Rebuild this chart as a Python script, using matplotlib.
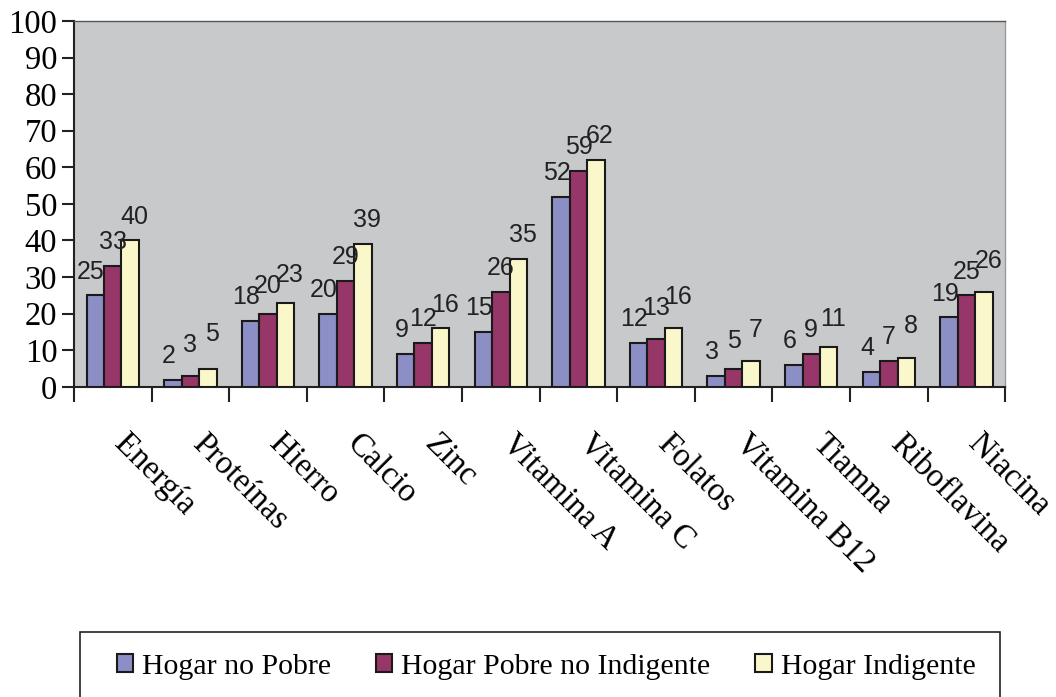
import numpy as np
import matplotlib.pyplot as plt
from matplotlib.patches import Rectangle
from matplotlib.transforms import ScaledTranslation

# --- data ---
categories = ['Energía', 'Proteínas', 'Hierro', 'Calcio', 'Zinc', 'Vitamina A',
              'Vitamina C', 'Folatos', 'Vitamina B12', 'Tiamna', 'Riboflavina', 'Niacina']
no_pobre = [25, 2, 18, 20, 9, 15, 52, 12, 3, 6, 4, 19]
pobre_no_indigente = [33, 3, 20, 29, 12, 26, 59, 13, 5, 9, 7, 25]
indigente = [40, 5, 23, 39, 16, 35, 62, 16, 7, 11, 8, 26]
series_names = ['Hogar no Pobre', 'Hogar Pobre no Indigente', 'Hogar Indigente']
y_ticks = [0, 10, 20, 30, 40, 50, 60, 70, 80, 90, 100]

colors = ['#8C8FC6', '#973668', '#FAF8CA']
serif = 'Liberation Serif'
sans = 'Liberation Sans'

fig = plt.figure(figsize=(10.56, 6.97), dpi=100)
ax = fig.add_axes([0.070, 0.445, 0.882, 0.525])
ax.set_facecolor('#C8C9CB')

x = np.arange(len(categories))
w = 0.225
all_vals = [no_pobre, pobre_no_indigente, indigente]
handles = []
for i, (vals, name) in enumerate(zip(all_vals, series_names)):
    bars = ax.bar(x + (i - 1) * w, vals, width=w, color=colors[i],
                  edgecolor='#1a1a1a', linewidth=1.5, label=name, zorder=3)
    handles.append(bars)

# value labels, nudged up a little when they would sit on the previous one
lift = 6.5      # label centre above bar top, in data units
min_sep = 3.0
for j in range(len(categories)):
    prev = None
    for i in range(3):
        v = all_vals[i][j]
        yl = v + lift
        if prev is not None and yl - prev < min_sep:
            yl = prev + min_sep
        prev = yl
        ax.annotate(str(v), (x[j] + (i - 1) * w, yl), xytext=((i - 1) * 3, 0),
                    textcoords='offset points', ha='center', va='center',
                    fontsize=18, family=sans, color='#222222', zorder=4)

ax.set_xlim(-0.5, len(categories) - 0.5)
ax.set_ylim(0, 100)
ax.set_yticks(y_ticks)
ax.set_yticklabels([str(t) for t in y_ticks], family=serif, fontsize=23.5)
ax.tick_params(axis='y', direction='out', length=9, width=1.5, pad=3, color='#222222')

# category labels at centers, ticks at boundaries
ax.set_xticks(x)
ax.set_xticklabels(categories, rotation=-45, ha='left', va='top',
                   rotation_mode='anchor', family=serif, fontsize=23.5)
ax.tick_params(axis='x', which='major', length=0, pad=30)
shift = ScaledTranslation(0.17, 0, fig.dpi_scale_trans)
for lbl in ax.get_xticklabels():
    lbl.set_transform(lbl.get_transform() + shift)
ax.set_xticks(np.arange(len(categories) + 1) - 0.5, minor=True)
ax.tick_params(axis='x', which='minor', direction='out', length=11, width=1.5, color='#222222')

for s in ['left', 'bottom']:
    ax.spines[s].set_linewidth(1.5)
    ax.spines[s].set_color('#222222')
ax.spines['top'].set_linewidth(1.0)
ax.spines['top'].set_color('#555555')
ax.spines['right'].set_linewidth(1.0)
ax.spines['right'].set_color('#9a9a9a')

# legend box (runs off the bottom edge)
fig.patches.append(Rectangle((80 / 1056, -0.1), 920 / 1056, 0.1 + (1 - 632 / 697),
                             transform=fig.transFigure, facecolor='white',
                             edgecolor='#222222', linewidth=1.2))
leg = fig.legend(handles=handles, labels=series_names, loc='center',
                 bbox_to_anchor=(546 / 1056, 1 - 667 / 697), ncol=3, frameon=False,
                 prop={'family': serif, 'size': 21.5}, handlelength=0.55, handleheight=0.55,
                 handletextpad=0.3, columnspacing=1.5)

fig.savefig('out.png', dpi=100)
